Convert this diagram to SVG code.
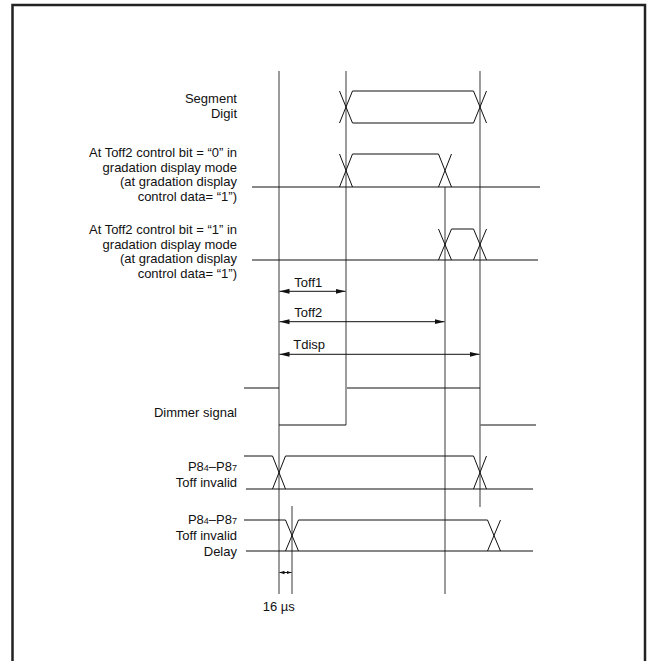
<svg xmlns="http://www.w3.org/2000/svg" width="647" height="661" viewBox="0 0 647 661">
<style>
text{font-family:"Liberation Sans",Arial,sans-serif;font-size:13px;fill:#111}
.lbl{text-anchor:end}
.sig{fill:none;stroke:#111;stroke-width:1}
.grid{fill:none;stroke:#666;stroke-width:1.3}
.dim{fill:none;stroke:#111;stroke-width:1}
.sub{font-size:9px}
</style>
<defs>
<marker id="ah" viewBox="0 0 10 6" refX="10" refY="3" markerWidth="10" markerHeight="6" markerUnits="userSpaceOnUse" orient="auto-start-reverse">
<path d="M0,0.5 L10,3 L0,5.5 Z" fill="#111"/>
</marker>
<marker id="ahs" viewBox="0 0 5 4" refX="5" refY="2" markerWidth="5" markerHeight="4" markerUnits="userSpaceOnUse" orient="auto-start-reverse">
<path d="M0,0.3 L5,2 L0,3.7 Z" fill="#111"/>
</marker>
</defs>
<rect x="0" y="0" width="647" height="661" fill="#fff"/>
<rect id="frame" x="12.5" y="5" width="632.5" height="700" fill="none" stroke="#222" stroke-width="2.5"/>

<g id="guides">
<line class="grid" x1="279" y1="71" x2="279" y2="594"/>
<line class="grid" x1="346" y1="71" x2="346" y2="425"/>
<line class="grid" x1="445" y1="187" x2="445" y2="594"/>
<line class="grid" x1="480" y1="71" x2="480" y2="507"/>
<line class="grid" x1="292" y1="506" x2="292" y2="594"/>
</g>

<g id="segment-digit">
<text class="lbl" x="237" y="103">Segment</text>
<text class="lbl" x="237" y="117.5">Digit</text>
<path class="sig" d="M339.5,91 L352.5,123 L473.5,123 L486.5,91 M339.5,123 L352.5,91 L473.5,91 L486.5,123"/>
</g>

<g id="toff2-bit0">
<text class="lbl" x="237" y="157.3">At Toff2 control bit = “0” in</text>
<text class="lbl" x="237" y="171.7">gradation display mode</text>
<text class="lbl" x="237" y="186.1">(at gradation display</text>
<text class="lbl" x="237" y="200.5">control data= “1”)</text>
<line class="sig" x1="252" y1="187" x2="540" y2="187"/>
<path class="sig" d="M339.5,187 L352.5,154 L438.5,154 L451.5,187 M339.5,154 L352.5,187 M438.5,187 L451.5,154"/>
</g>

<g id="toff2-bit1">
<text class="lbl" x="237" y="234.3">At Toff2 control bit = “1” in</text>
<text class="lbl" x="237" y="248.7">gradation display mode</text>
<text class="lbl" x="237" y="263.1">(at gradation display</text>
<text class="lbl" x="237" y="277.5">control data= “1”)</text>
<line class="sig" x1="252" y1="260" x2="538" y2="260"/>
<path class="sig" d="M438.5,260 L451.5,229 L473.5,229 L486.5,260 M438.5,229 L451.5,260 M473.5,260 L486.5,229"/>
</g>

<g id="dimmer">
<text class="lbl" x="237" y="416.7">Dimmer signal</text>
<path class="dim" d="M244,388 L279,388 M279,425 L346,425 M347,388 L480,388 M480.5,425 L536,425"/>
</g>

<g id="p8-invalid">
<text class="lbl" x="237" y="470.7">P8<tspan class="sub">4</tspan>–P8<tspan class="sub">7</tspan></text>
<text class="lbl" x="237" y="486.7">Toff invalid</text>
<line class="sig" x1="246" y1="489" x2="533" y2="489"/>
<path class="sig" d="M244,456 L272.5,456 L285.5,489 M272.5,489 L285.5,456 L473.5,456 L486.5,489 M473.5,489 L486.5,456"/>
</g>

<g id="p8-invalid-delay">
<text class="lbl" x="237" y="524">P8<tspan class="sub">4</tspan>–P8<tspan class="sub">7</tspan></text>
<text class="lbl" x="237" y="540">Toff invalid</text>
<text class="lbl" x="237" y="555.7">Delay</text>
<line class="sig" x1="246" y1="551" x2="533" y2="551"/>
<path class="sig" d="M244,520 L285.5,520 L298.5,551 M285.5,551 L298.5,520 L487.5,520 L500.5,551 M487.5,551 L500.5,520"/>
</g>

<g id="connectors">
<line class="sig" x1="279.5" y1="291.3" x2="345.5" y2="291.3" marker-start="url(#ah)" marker-end="url(#ah)"/>
<line class="sig" x1="279.5" y1="321.7" x2="444.5" y2="321.7" marker-start="url(#ah)" marker-end="url(#ah)"/>
<line class="sig" x1="279.5" y1="354.3" x2="479.5" y2="354.3" marker-start="url(#ah)" marker-end="url(#ah)"/>
<line class="sig" x1="279.5" y1="572.5" x2="291.5" y2="572.5" marker-start="url(#ahs)" marker-end="url(#ahs)"/>
</g>

<g id="timing-labels">
<text x="294.3" y="287.3">Toff1</text>
<text x="294.3" y="316.7">Toff2</text>
<text x="293.3" y="349">Tdisp</text>
<text x="262.7" y="611">16 µs</text>
</g>
</svg>
